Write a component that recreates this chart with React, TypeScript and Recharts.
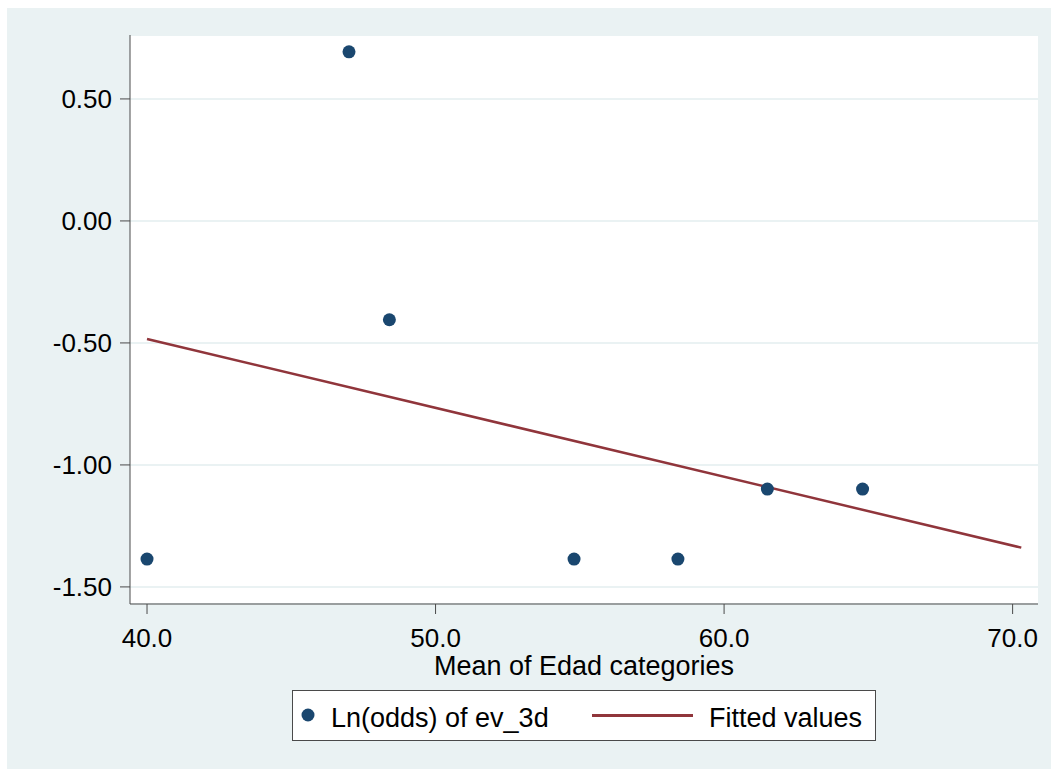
import {
  ComposedChart,
  Scatter,
  Line,
  XAxis,
  YAxis,
  CartesianGrid,
} from 'recharts';

const ageMeans = [40.0, 47.0, 48.4, 54.8, 58.4, 61.5, 64.8];
const lnOdds = [-1.386, 0.693, -0.405, -1.386, -1.386, -1.099, -1.099];
const fitAges = [40.0, 70.3];
const fitValues = [-0.484, -1.339];
const xTicks = [40, 50, 60, 70];
const yTicks = [-1.5, -1.0, -0.5, 0, 0.5];

const points = ageMeans.map((x, i) => ({ x, y: lnOdds[i] }));
const fitted = fitAges.map((x, i) => ({ x, y: fitValues[i] }));

const NAVY = '#1a476f';
const MAROON = '#90353b';
const BG = '#eaf2f3';
const AXIS = '#4a4a4a';
const FONT = '"Liberation Sans", Arial, sans-serif';
const TICK_FS = 26;
const LABEL_FS = 27;

function StataLegend() {
  return (
    <div
      style={{
        position: 'absolute',
        left: 292,
        top: 690,
        width: 584,
        height: 51,
        background: '#fff',
        border: `1px solid ${AXIS}`,
        boxSizing: 'border-box',
      }}
    >
      <svg width={584} height={51} style={{ position: 'absolute', left: -1, top: -1 }}>
        <circle cx={16} cy={25} r={6.5} fill={NAVY} />
        <text x={39} y={37} fontSize={LABEL_FS} fontFamily={FONT} fill="#000">
          Ln(odds) of ev_3d
        </text>
        <line x1={300} y1={25.5} x2={401} y2={25.5} stroke={MAROON} strokeWidth={3} />
        <text x={417} y={37} fontSize={LABEL_FS} fontFamily={FONT} fill="#000">
          Fitted values
        </text>
      </svg>
    </div>
  );
}

export default function App() {
  return (
    <div style={{ position: 'absolute', left: 0, top: 0, width: 1051, height: 769, background: '#fff' }}>
      <div style={{ position: 'absolute', left: 7, top: 8, width: 1044, height: 761, background: BG }} />
      <div style={{ position: 'absolute', left: 0, top: 0 }}>
        <ComposedChart
          width={1051}
          height={769}
          margin={{ top: 35, right: 13, bottom: 115, left: 70 }}
        >
          <CartesianGrid
            vertical={false}
            horizontal
            fill="#ffffff"
            stroke={BG}
            strokeWidth={2}
          />
          <XAxis
            dataKey="x"
            type="number"
            domain={[39.41, 70.88]}
            ticks={xTicks}
            allowDataOverflow
            tickFormatter={(v: number) => v.toFixed(1)}
            height={50}
            tickSize={10}
            tickMargin={15}
            stroke={AXIS}
            tick={{ fill: '#000', fontSize: TICK_FS, fontFamily: FONT }}
            label={{
              value: 'Mean of Edad categories',
              position: 'bottom',
              offset: 2,
              fill: '#000',
              fontSize: LABEL_FS,
              fontFamily: FONT,
            }}
          />
          <YAxis
            dataKey="y"
            type="number"
            domain={[-1.57, 0.762]}
            ticks={yTicks}
            allowDataOverflow
            tickFormatter={(v: number) => v.toFixed(2)}
            width={60}
            tickSize={10}
            tickMargin={8}
            stroke={AXIS}
            tick={{ fill: '#000', fontSize: TICK_FS, fontFamily: FONT }}
          />
          <Scatter
            name="Ln(odds) of ev_3d"
            data={points}
            dataKey="y"
            fill={NAVY}
            isAnimationActive={false}
            shape={(p: any) => <circle cx={p.cx} cy={p.cy} r={6.5} fill={NAVY} />}
          />
          <Line
            name="Fitted values"
            data={fitted}
            dataKey="y"
            type="linear"
            stroke={MAROON}
            strokeWidth={2.5}
            dot={false}
            activeDot={false}
            isAnimationActive={false}
          />
        </ComposedChart>
      </div>
      <StataLegend />
    </div>
  );
}
